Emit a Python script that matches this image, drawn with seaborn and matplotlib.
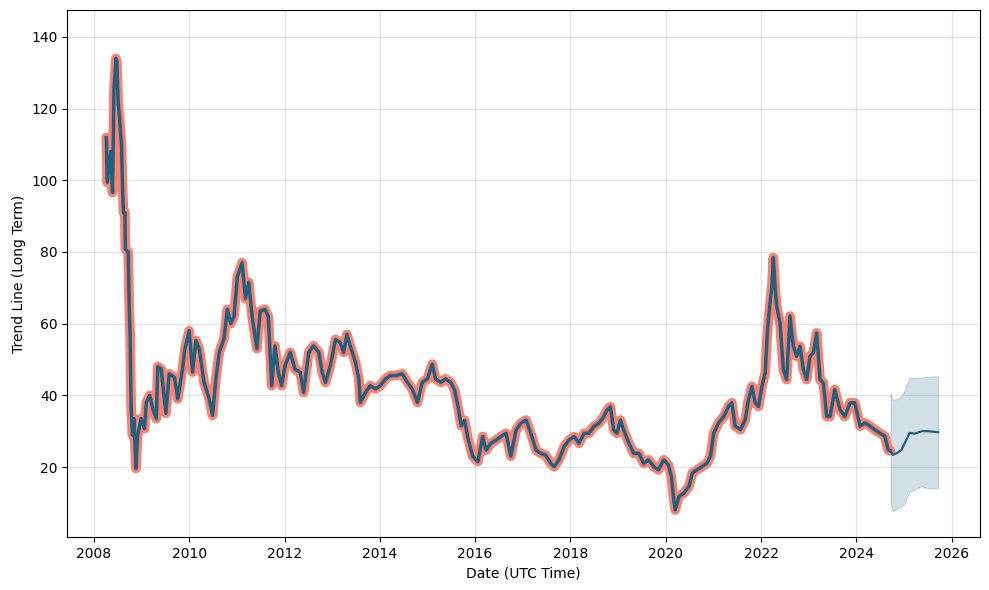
import numpy as np
import pandas as pd
import matplotlib
matplotlib.use("Agg")
import matplotlib.pyplot as plt
import matplotlib.dates as mdates
import seaborn as sns

# ---- data (decimal years) ----
hist_years = [
    2008.26, 2008.28, 2008.35, 2008.39, 2008.42, 2008.46, 2008.48, 2008.51, 2008.54, 2008.58,
    2008.60, 2008.62, 2008.65, 2008.66, 2008.72, 2008.74, 2008.76, 2008.78, 2008.81, 2008.84,
    2008.88, 2008.92, 2008.99, 2009.06, 2009.10, 2009.17, 2009.24, 2009.31, 2009.34, 2009.41,
    2009.51, 2009.58, 2009.69, 2009.76, 2009.86, 2009.91, 2010.00, 2010.07, 2010.14, 2010.21,
    2010.31, 2010.42, 2010.49, 2010.56, 2010.63, 2010.73, 2010.80, 2010.87, 2010.94, 2011.01,
    2011.11, 2011.18, 2011.25, 2011.32, 2011.42, 2011.49, 2011.59, 2011.66, 2011.73, 2011.80,
    2011.87, 2011.94, 2012.01, 2012.12, 2012.22, 2012.33, 2012.40, 2012.51, 2012.61, 2012.72,
    2012.79, 2012.86, 2012.96, 2013.07, 2013.17, 2013.24, 2013.31, 2013.38, 2013.49, 2013.56,
    2013.59, 2013.70, 2013.80, 2013.91, 2014.01, 2014.12, 2014.22, 2014.33, 2014.47, 2014.58,
    2014.68, 2014.79, 2014.89, 2015.00, 2015.10, 2015.17, 2015.28, 2015.38, 2015.49, 2015.57,
    2015.64, 2015.71, 2015.78, 2015.85, 2015.95, 2016.06, 2016.16, 2016.23, 2016.33, 2016.44,
    2016.54, 2016.65, 2016.75, 2016.86, 2016.96, 2017.07, 2017.17, 2017.28, 2017.38, 2017.48,
    2017.59, 2017.66, 2017.76, 2017.87, 2017.97, 2018.08, 2018.18, 2018.29, 2018.39, 2018.49,
    2018.60, 2018.70, 2018.77, 2018.84, 2018.91, 2018.98, 2019.05, 2019.12, 2019.23, 2019.33,
    2019.44, 2019.54, 2019.64, 2019.75, 2019.85, 2019.96, 2020.06, 2020.12, 2020.17, 2020.20,
    2020.28, 2020.38, 2020.49, 2020.56, 2020.66, 2020.77, 2020.87, 2020.94, 2021.01, 2021.11,
    2021.22, 2021.32, 2021.39, 2021.46, 2021.57, 2021.67, 2021.74, 2021.81, 2021.88, 2021.95,
    2022.02, 2022.09, 2022.13, 2022.17, 2022.23, 2022.26, 2022.30, 2022.33, 2022.40, 2022.47,
    2022.54, 2022.61, 2022.68, 2022.75, 2022.82, 2022.89, 2022.96, 2023.03, 2023.10, 2023.17,
    2023.24, 2023.31, 2023.38, 2023.45, 2023.55, 2023.66, 2023.76, 2023.87, 2023.97, 2024.08,
    2024.18, 2024.29, 2024.39, 2024.49, 2024.60, 2024.67, 2024.72,
]
hist_values = [
    111.9, 99.4, 108.0, 96.6, 125.0, 134.0, 133.0, 121.6, 117.0, 109.6,
    98.0, 91.0, 91.0, 80.8, 80.0, 65.0, 56.7, 37.2, 28.9, 33.5,
    19.6, 29.0, 33.5, 30.7, 38.0, 40.0, 36.0, 33.5, 48.0, 47.4,
    35.0, 46.0, 45.0, 39.0, 47.4, 53.0, 58.0, 46.5, 55.3, 53.0,
    43.7, 39.0, 34.4, 44.6, 52.0, 55.8, 64.0, 60.0, 62.0, 73.0,
    77.0, 67.0, 71.5, 62.0, 53.0, 63.5, 64.0, 62.0, 42.7, 53.8,
    46.4, 42.7, 48.2, 52.0, 47.3, 46.4, 40.8, 52.0, 53.8, 52.0,
    46.4, 43.6, 48.2, 55.6, 54.7, 52.0, 57.0, 53.8, 49.2, 44.6,
    38.0, 40.8, 42.7, 41.8, 42.7, 44.6, 45.5, 45.5, 46.0, 43.6,
    41.8, 38.0, 43.6, 44.6, 48.7, 44.6, 43.6, 44.6, 43.6, 41.5,
    37.0, 31.5, 33.0, 28.0, 23.0, 21.5, 28.5, 24.7, 26.6, 27.5,
    28.5, 29.4, 23.0, 30.3, 32.2, 33.1, 29.4, 24.7, 23.8, 23.3,
    21.0, 20.1, 22.0, 25.7, 27.5, 28.5, 26.6, 29.4, 29.4, 31.3,
    32.2, 34.0, 35.9, 36.8, 30.3, 29.4, 33.1, 30.3, 26.6, 23.8,
    23.8, 21.0, 22.0, 20.1, 19.2, 22.0, 20.5, 17.3, 11.0, 8.0,
    11.8, 12.7, 14.6, 18.3, 19.2, 20.2, 21.1, 23.0, 29.5, 32.3,
    34.1, 36.9, 37.9, 31.4, 30.4, 33.2, 38.8, 42.5, 37.9, 36.9,
    42.5, 46.3, 56.5, 63.0, 70.5, 78.4, 69.6, 64.9, 60.2, 47.2,
    44.4, 62.1, 53.7, 50.9, 53.7, 47.2, 44.4, 50.9, 51.9, 57.4,
    44.4, 43.5, 34.1, 34.1, 41.6, 36.0, 34.1, 37.9, 37.9, 31.4,
    32.3, 31.4, 30.4, 29.5, 28.6, 24.8, 24.5,
]

fc_years = [2024.72, 2024.77, 2024.87, 2024.95, 2025.02, 2025.12, 2025.23, 2025.37, 2025.51, 2025.72]
fc_values = [24.5, 23.4, 24.0, 24.8, 26.7, 29.5, 29.3, 30.0, 30.0, 29.7]
fc_upper = [40.7, 38.8, 39.0, 39.7, 41.6, 44.9, 44.8, 45.0, 45.2, 45.3]
fc_lower = [9.9, 7.6, 8.5, 9.0, 9.9, 13.2, 13.8, 14.6, 14.0, 14.1]

x_label = "Date (UTC Time)"
y_label = "Trend Line (Long Term)"


def to_dates(years):
    base = pd.Timestamp("2008-01-01")
    return [base + pd.to_timedelta((y - 2008.0) * 365.25, unit="D") for y in years]


hist = pd.DataFrame({"ds": to_dates(hist_years), "y": hist_values})
fc = pd.DataFrame({"ds": to_dates(fc_years), "yhat": fc_values,
                   "upper": fc_upper, "lower": fc_lower})

plt.rcParams["font.family"] = ["DejaVu Sans"]

LINE = "#22607f"
OBS = "#fa8070"

fig = plt.figure(figsize=(9.89, 5.90), dpi=100)
ax = fig.add_axes([0.068, 0.09, 0.923, 0.893])

ax.fill_between(fc["ds"], fc["lower"], fc["upper"], color=LINE, alpha=0.2, lw=0.8)
sns.lineplot(data=hist, x="ds", y="y", ax=ax, color=OBS, lw=7,
             solid_joinstyle="round", solid_capstyle="round")
sns.lineplot(data=hist, x="ds", y="y", ax=ax, color=LINE, lw=2.5)
sns.lineplot(data=fc, x="ds", y="yhat", ax=ax, color=LINE, lw=1.6)

ax.grid(True, which="major", color="gray", ls="-", lw=1, alpha=0.2)
ax.xaxis.set_major_locator(mdates.YearLocator(2))
ax.xaxis.set_major_formatter(mdates.DateFormatter("%Y"))
ax.set_xlim(to_dates([2007.44])[0], to_dates([2026.6])[0])
ax.set_ylim(0.5, 147.5)
ax.set_xlabel(x_label, fontsize=10, color="black")
ax.set_ylabel(y_label, fontsize=10, color="black")
ax.tick_params(axis="both", labelsize=10, length=3.5, width=0.8, direction="out",
               colors="black", bottom=True, left=True)
for s in ax.spines.values():
    s.set_color("black")
    s.set_linewidth(0.8)

fig.savefig("out.png", dpi=100)
